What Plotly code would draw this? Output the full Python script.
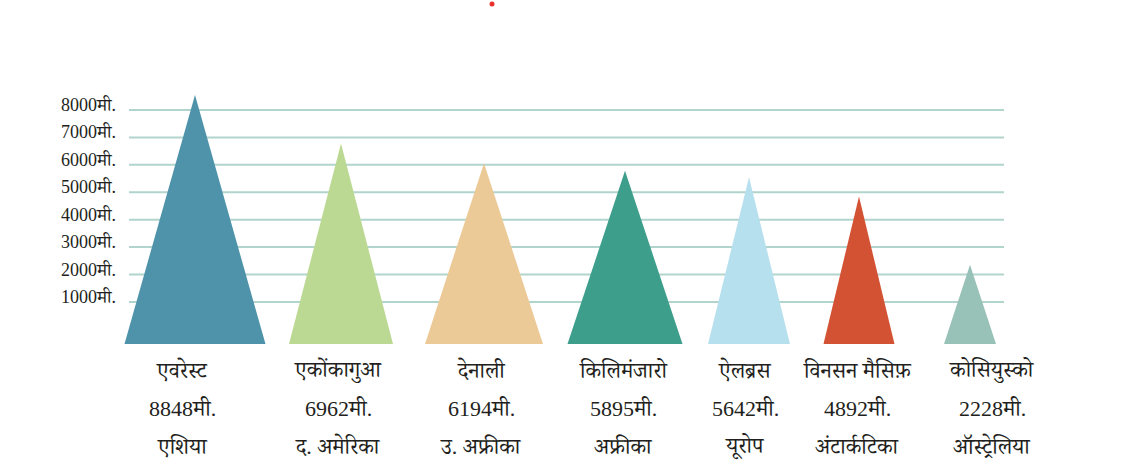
import plotly.graph_objects as go

# ---- data ----
names = ["एवरेस्ट", "एकोंकागुआ", "देनाली", "किलिमंजारो", "ऐलब्रस", "विनसन मैसिफ़", "कोसियुस्को"]
heights = [8848, 6962, 6194, 5895, 5642, 4892, 2228]
continents = ["एशिया", "द. अमेरिका", "उ. अफ्रीका", "अफ्रीका", "यूरोप", "अंटार्कटिका", "ऑस्ट्रेलिया"]
tick_values = [1000, 2000, 3000, 4000, 5000, 6000, 7000, 8000]
tick_labels = [f"{v}मी." for v in tick_values]
height_labels = [f"{h}मी." for h in heights]

# ---- layout / style ----
W, H = 1123, 473
peak_x = [195, 341, 484, 625, 749, 859, 970]
base_w = [141, 104, 118, 115, 82, 71, 52]
label_x = [182, 338, 481, 623, 745, 857, 992]
colors = ["#4f93aa", "#bcd994", "#ecca97", "#3e9e8c", "#b7e0ef", "#d35234", "#98c1b7"]
grid_color = "#b1d4cd"
base_level = -858
FONT = "Liberation Serif, Noto Serif Devanagari, Noto Sans Devanagari, Lohit Devanagari, serif"

fig = go.Figure()
for i, (h, c) in enumerate(zip(heights, colors)):
    x0 = peak_x[i] - base_w[i] / 2
    x1 = peak_x[i] + base_w[i] / 2
    fig.add_trace(go.Scatter(
        x=[x0, peak_x[i], x1, x0], y=[base_level, h, base_level, base_level],
        fill="toself", fillcolor=c, line=dict(width=0, color=c),
        mode="lines", yaxis="y2", hoverinfo="skip", showlegend=False))

for v in tick_values:
    fig.add_shape(type="line", xref="x", yref="y", x0=129, x1=1004, y0=v, y1=v,
                  line=dict(color=grid_color, width=2), layer="below")

for v, t in zip(tick_values, tick_labels):
    fig.add_annotation(x=118, y=v, xref="x", yref="y", text=t, showarrow=False,
                       xanchor="right", yanchor="middle", yshift=5,
                       font=dict(family=FONT, size=18, color="#231f20"))

line_px = [370, 408, 446]
for i in range(len(names)):
    for txt, py in zip([names[i], height_labels[i], continents[i]], line_px):
        fig.add_annotation(x=label_x[i], y=1 - py / H, xref="x", yref="paper", text=txt,
                           showarrow=False, xanchor="center", yanchor="middle",
                           font=dict(family=FONT, size=22, color="#231f20"))

# small red dot at the top
fig.add_shape(type="circle", xref="x", yref="paper", x0=489.5, x1=494.5,
              y0=1 - 6.5 / H, y1=1 - 1.5 / H, fillcolor="#e8312c", line=dict(width=0))

fig.update_layout(
    width=W, height=H, margin=dict(l=0, r=0, t=0, b=0),
    paper_bgcolor="white", plot_bgcolor="white",
    xaxis=dict(range=[0, W], visible=False, fixedrange=True),
    yaxis=dict(range=[-5235, 12009], visible=False, fixedrange=True),
    yaxis2=dict(range=[-5887, 12554], visible=False, overlaying="y", fixedrange=True),
)

fig.write_html("out.html")
